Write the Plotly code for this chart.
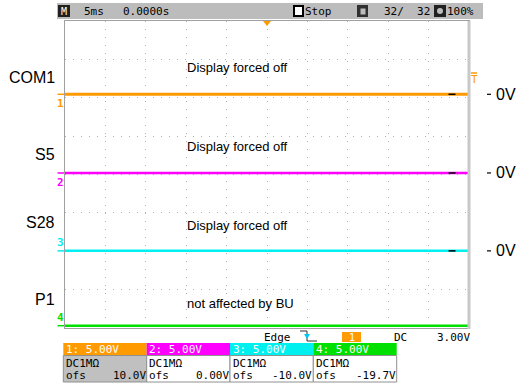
import plotly.graph_objects as go

W, H = 519, 383

# ---- data ----
time_ms = [-25.0, 25.0]                     # 10 div x 5 ms
ch_names = ["COM1", "S5", "S28", "P1"]
ch_numbers = ["1", "2", "3", "4"]
ch_colors = ["#ff9a00", "#ff00ff", "#00f0f0", "#00e000"]
ch_scale_v = [5.0, 5.0, 5.0, 5.0]           # V/div
ch_offset_v = [10.0, 0.0, -10.0, -19.7]     # ofs
ch_level_v = [[0.45, 0.45], [0.2, 0.2], [0.05, 0.05], [0.0, 0.0]]  # measured (flat)
ch_notes = ["Display forced off", "Display forced off", "Display forced off", "not affected by BU"]
ch_volt_labels = ["0V", "0V", "0V"]
header_items = ["5ms", "0.0000s", "Stop", "32/  32", "100%"]
trig_items = ["Edge", "1", "DC", "3.00V"]
box_headers = ["1: 5.00V", "2: 5.00V", "3: 5.00V", "4: 5.00V"]
box_coupling = ["DC1MΩ", "DC1MΩ", "DC1MΩ", "DC1MΩ"]
box_ofs = ["10.0V", "0.00V", "-10.0V", "-19.7V"]

# screen geometry (pixels)
SX0, SX1, SY0, SY1 = 65, 469, 21, 328

def px(x):
    return x / W

def py(y):
    return 1 - y / H

fig = go.Figure()

for i in range(4):
    ydiv = [(v + ch_offset_v[i]) / ch_scale_v[i] for v in ch_level_v[i]]
    fig.add_trace(go.Scatter(x=time_ms, y=ydiv, mode="lines",
                             line=dict(color=ch_colors[i], width=3 if i == 0 else 2.5),
                             hoverinfo="skip", showlegend=False))

# level markers (black dashes near right edge), 3 upper channels
lvl_y = [(ch_level_v[i][0] + ch_offset_v[i]) / ch_scale_v[i] for i in range(3)]
fig.add_trace(go.Scatter(x=[22.9] * 3, y=lvl_y, mode="markers",
                         marker=dict(symbol="line-ew", size=5, line=dict(color="black", width=1.5)),
                         hoverinfo="skip", showlegend=False, cliponaxis=False))
fig.add_trace(go.Scatter(x=[25.4] * 3, y=lvl_y, mode="markers",
                         marker=dict(symbol="line-ew", size=4, line=dict(color="black", width=1.5)),
                         hoverinfo="skip", showlegend=False, cliponaxis=False))

grid_col = "#b0b0b0"
fig.update_xaxes(domain=[px(SX0), px(SX1)], range=[-25, 25], dtick=5, tick0=0,
                 showgrid=True, gridcolor=grid_col, griddash="1px,7px", gridwidth=1,
                 zeroline=False, showticklabels=False, ticks="",
                 showline=True, linecolor="#a0a0a0", linewidth=1, mirror=True, fixedrange=True)
fig.update_yaxes(domain=[py(SY1), py(SY0)], range=[-4, 4], dtick=1, tick0=0,
                 showgrid=True, gridcolor=grid_col, griddash="1px,7px", gridwidth=1,
                 zeroline=False, showticklabels=False, ticks="",
                 showline=True, linecolor="#a0a0a0", linewidth=1, mirror=True, fixedrange=True)

shapes = []
ann = []
mono = "DejaVu Sans Mono"
sans = "Liberation Sans"

# right thick border
shapes.append(dict(type="rect", xref="paper", yref="paper", x0=px(467.5), x1=px(470.5),
                   y0=py(SY1 + 1), y1=py(SY0), fillcolor="#c8c8c8", line=dict(width=0), layer="above"))

# header bar
shapes.append(dict(type="rect", xref="paper", yref="paper", x0=px(57), x1=px(483),
                   y0=py(19), y1=py(3), fillcolor="#bcbcbc", line=dict(width=0)))
shapes.append(dict(type="rect", xref="paper", yref="paper", x0=px(58), x1=px(70),
                   y0=py(17), y1=py(5), fillcolor="#202020", line=dict(width=0)))
ann.append(dict(x=px(64), y=py(11), xref="paper", yref="paper", text="M", showarrow=False,
                font=dict(family=mono, size=10, color="white"), xanchor="center", yanchor="middle"))
shapes.append(dict(type="rect", xref="paper", yref="paper", x0=px(294), x1=px(303),
                   y0=py(16), y1=py(6), fillcolor="white", line=dict(width=2, color="black")))
shapes.append(dict(type="rect", xref="paper", yref="paper", x0=px(357), x1=px(368),
                   y0=py(17), y1=py(5), fillcolor="#303030", line=dict(width=0)))
shapes.append(dict(type="rect", xref="paper", yref="paper", x0=px(360), x1=px(366),
                   y0=py(15), y1=py(8), fillcolor="#bcbcbc", line=dict(width=1, color="#303030")))
shapes.append(dict(type="rect", xref="paper", yref="paper", x0=px(434), x1=px(446),
                   y0=py(17), y1=py(5), fillcolor="#202020", line=dict(width=0)))
shapes.append(dict(type="circle", xref="paper", yref="paper", x0=px(437), x1=px(443),
                   y0=py(14), y1=py(8), fillcolor="#bcbcbc", line=dict(width=0)))
hdr_x = [83, 122, 304, 383, 446]
for t, x in zip(header_items, hdr_x):
    ann.append(dict(x=px(x), y=py(11), xref="paper", yref="paper", text=t, showarrow=False,
                    font=dict(family=mono, size=11, color="black"), xanchor="left", yanchor="middle"))

# trigger markers
shapes.append(dict(type="path", xref="paper", yref="paper",
                   path=f"M {px(263)},{py(21)} L {px(271)},{py(21)} L {px(267)},{py(26)} Z",
                   fillcolor="#ff9a00", line=dict(width=0)))
ann.append(dict(x=px(474), y=py(80), xref="paper", yref="paper", text="T", showarrow=False,
                font=dict(family=mono, size=11, color="#ff9a00"), xanchor="center", yanchor="middle"))
shapes.append(dict(type="line", xref="paper", yref="paper", x0=px(471), x1=px(477),
                   y0=py(73), y1=py(73), line=dict(color="#ff9a00", width=1.5)))

# channel labels on left, notes, volt labels
name_y = [77, 154, 222, 299]
note_y = [67, 146, 225, 303]
for i in range(4):
    ann.append(dict(x=px(56), y=py(name_y[i]), xref="paper", yref="paper", text=ch_names[i],
                    showarrow=False, font=dict(family=sans, size=16, color="black"),
                    xanchor="right", yanchor="middle"))
    ann.append(dict(x=px(186), y=py(note_y[i]), xref="paper", yref="paper", text=ch_notes[i],
                    showarrow=False, font=dict(family=sans, size=13, color="black"),
                    xanchor="left", yanchor="middle"))
    yl = (ch_level_v[i][0] + ch_offset_v[i]) / ch_scale_v[i]
    below = i < 2
    ann.append(dict(x=px(60.5), y=yl, xref="paper", yref="y", text=f"<b>{ch_numbers[i]}</b>",
                    showarrow=False, font=dict(family=mono, size=11, color=ch_colors[i]),
                    xanchor="center", yanchor="top" if below else "bottom",
                    yshift=-2 if below else 1))
    shapes.append(dict(type="line", xref="paper", yref="y", x0=px(57.5), x1=px(64),
                       y0=yl, y1=yl, line=dict(color=ch_colors[i], width=1.5)))
for i in range(3):
    yl = (ch_level_v[i][0] + ch_offset_v[i]) / ch_scale_v[i]
    shapes.append(dict(type="line", xref="paper", yref="y", x0=px(487), x1=px(491),
                       y0=yl, y1=yl, line=dict(color="black", width=1.2)))
    ann.append(dict(x=px(517), y=yl, xref="paper", yref="y", text=ch_volt_labels[i],
                    showarrow=False, font=dict(family=sans, size=16, color="black"),
                    xanchor="right", yanchor="middle"))

# trigger info row
ann.append(dict(x=px(263), y=py(337), xref="paper", yref="paper", text=trig_items[0], showarrow=False,
                font=dict(family=mono, size=11, color="black"), xanchor="left", yanchor="middle"))
shapes.append(dict(type="line", xref="paper", yref="paper", x0=px(300), x1=px(307),
                   y0=py(331), y1=py(331), line=dict(color="#303030", width=1)))
shapes.append(dict(type="line", xref="paper", yref="paper", x0=px(307), x1=px(307),
                   y0=py(331), y1=py(341), line=dict(color="#303030", width=1)))
shapes.append(dict(type="line", xref="paper", yref="paper", x0=px(307), x1=px(317),
                   y0=py(341), y1=py(341), line=dict(color="#303030", width=1)))
shapes.append(dict(type="path", xref="paper", yref="paper",
                   path=f"M {px(304)},{py(334)} L {px(310)},{py(334)} L {px(307)},{py(339)} Z",
                   fillcolor="#00c8f0", line=dict(width=0)))
shapes.append(dict(type="rect", xref="paper", yref="paper", x0=px(342), x1=px(361),
                   y0=py(342), y1=py(332), fillcolor="#ff9a00", line=dict(width=0)))
ann.append(dict(x=px(351.5), y=py(337), xref="paper", yref="paper", text=trig_items[1], showarrow=False,
                font=dict(family=mono, size=10, color="white"), xanchor="center", yanchor="middle"))
ann.append(dict(x=px(393), y=py(337), xref="paper", yref="paper", text=trig_items[2], showarrow=False,
                font=dict(family=mono, size=11, color="black"), xanchor="left", yanchor="middle"))
ann.append(dict(x=px(471), y=py(337), xref="paper", yref="paper", text=trig_items[3], showarrow=False,
                font=dict(family=mono, size=11, color="black"), xanchor="right", yanchor="middle"))

# channel boxes
bx = [63.3, 146.7, 230, 313.3, 396.7]
for i in range(4):
    x0, x1 = bx[i], bx[i + 1]
    shapes.append(dict(type="rect", xref="paper", yref="paper", x0=px(x0), x1=px(x1),
                       y0=py(355.5), y1=py(343), fillcolor=ch_colors[i], line=dict(width=0)))
    shapes.append(dict(type="rect", xref="paper", yref="paper", x0=px(x0), x1=px(x1),
                       y0=py(382), y1=py(355.5), fillcolor="#c0c0c0" if i == 0 else "white",
                       line=dict(width=1, color="#909090")))
    ann.append(dict(x=px(x0 + 1.5), y=py(349.5), xref="paper", yref="paper", text=box_headers[i],
                    showarrow=False, font=dict(family=mono, size=11, color="white"),
                    xanchor="left", yanchor="middle"))
    ann.append(dict(x=px(x0 + 1.5), y=py(363), xref="paper", yref="paper", text=box_coupling[i],
                    showarrow=False, font=dict(family=mono, size=11, color="black"),
                    xanchor="left", yanchor="middle"))
    ann.append(dict(x=px(x0 + 1.5), y=py(375.5), xref="paper", yref="paper", text="ofs",
                    showarrow=False, font=dict(family=mono, size=11, color="black"),
                    xanchor="left", yanchor="middle"))
    ann.append(dict(x=px(x1), y=py(375.5), xref="paper", yref="paper", text=box_ofs[i],
                    showarrow=False, font=dict(family=mono, size=11, color="black"),
                    xanchor="right", yanchor="middle"))

for a in ann:
    a.setdefault("borderpad", 0)

fig.update_layout(width=W, height=H, margin=dict(l=0, r=0, t=0, b=0),
                  paper_bgcolor="white", plot_bgcolor="white",
                  shapes=shapes, annotations=ann, showlegend=False)

fig.write_html("out.html", config={"displayModeBar": False},
               post_script="document.body.style.margin='0';document.body.style.padding='0';"
                           "document.body.style.overflow='hidden';")
